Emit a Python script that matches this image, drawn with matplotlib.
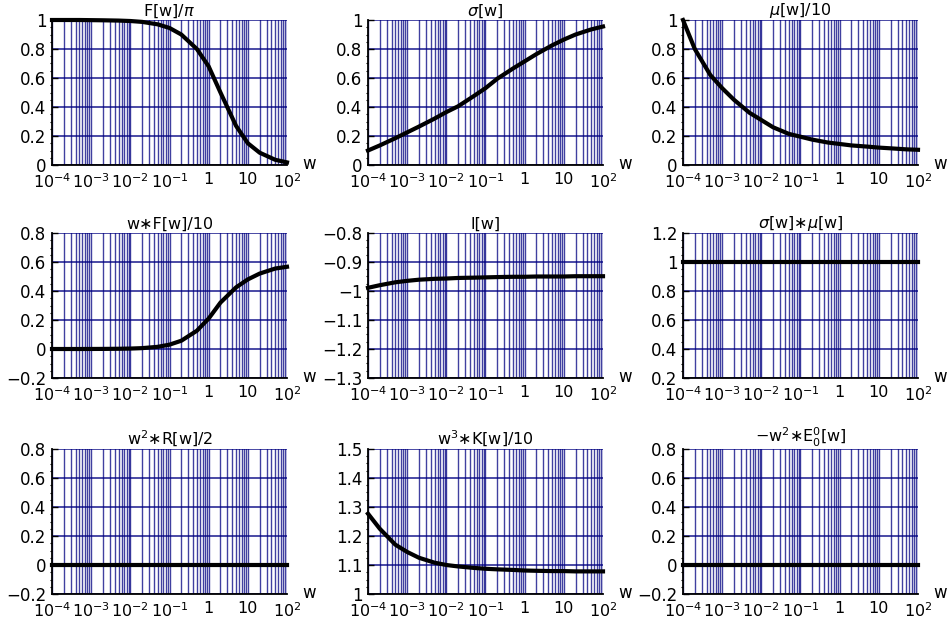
import numpy as np
import matplotlib
matplotlib.use('Agg')
import matplotlib.pyplot as plt
from matplotlib.ticker import LogLocator, FixedLocator, AutoMinorLocator, NullFormatter

plt.rcParams['font.family'] = ['DejaVu Sans']
plt.rcParams['mathtext.fontset'] = 'dejavusans'

w = [1e-4, 2e-4, 5e-4, 1e-3, 2e-3, 5e-3, 0.01, 0.02, 0.05, 0.1,
     0.2, 0.5, 1, 2, 5, 10, 20, 50, 100]

f_pi = [1.0, 1.0, 1.0, 0.999, 0.998, 0.996, 0.993, 0.987, 0.97, 0.945,
        0.9, 0.8, 0.68, 0.5, 0.27, 0.15, 0.085, 0.036, 0.018]
sigma = [0.10, 0.135, 0.185, 0.225, 0.265, 0.32, 0.365, 0.405, 0.475, 0.53,
         0.595, 0.665, 0.715, 0.765, 0.825, 0.865, 0.9, 0.935, 0.955]
mu_10 = [1.0, 0.8, 0.62, 0.53, 0.45, 0.36, 0.31, 0.26, 0.215, 0.195,
         0.175, 0.155, 0.145, 0.135, 0.127, 0.12, 0.115, 0.108, 0.105]
wf_10 = [0.0, 0.0, 0.0, 0.0003, 0.0006, 0.0016, 0.003, 0.006, 0.015, 0.03,
         0.057, 0.126, 0.21, 0.32, 0.425, 0.48, 0.52, 0.555, 0.567]
l_w = [-0.989, -0.98, -0.97, -0.965, -0.961, -0.958, -0.957, -0.955, -0.954, -0.953,
       -0.952, -0.951, -0.951, -0.95, -0.95, -0.95, -0.949, -0.949, -0.949]
sigma_mu = [1.0] * len(w)
w2r_2 = [0.0] * len(w)
w3k_10 = [1.277, 1.225, 1.17, 1.145, 1.125, 1.108, 1.1, 1.095, 1.09, 1.087,
          1.085, 1.083, 1.081, 1.08, 1.079, 1.079, 1.078, 1.078, 1.078]
w2e0 = [0.0] * len(w)

titles = [r'F[w]/$\pi$', r'$\sigma$[w]', r'$\mu$[w]/10',
          'w\u2217F[w]/10', 'l[w]', '$\\sigma$[w]\u2217$\\mu$[w]',
          'w$^2$\u2217R[w]/2', 'w$^3$\u2217K[w]/10', '\u2212w$^2$\u2217E$^0_0$[w]']
series = [f_pi, sigma, mu_10, wf_10, l_w, sigma_mu, w2r_2, w3k_10, w2e0]
ylims = [(0, 1), (0, 1), (0, 1), (-0.2, 0.8), (-1.3, -0.8), (0.2, 1.2),
         (-0.2, 0.8), (1, 1.5), (-0.2, 0.8)]
ysteps = [0.2, 0.2, 0.2, 0.2, 0.1, 0.2, 0.2, 0.1, 0.2]

xticks = [1e-4, 1e-3, 1e-2, 1e-1, 1, 10, 100]
xticklabels = [r'$10^{-4}$', r'$10^{-3}$', r'$10^{-2}$', r'$10^{-1}$', '1', '10', r'$10^{2}$']

W, H = 953, 622
fig = plt.figure(figsize=(W / 100, H / 100), dpi=100)

col_left = [52, 368, 683]
row_top = [20, 233, 449]
ax_w, ax_h = 235, 145
grid_col = '#000080'

for i in range(9):
    r, c = divmod(i, 3)
    ax = fig.add_axes([col_left[c] / W, 1 - (row_top[r] + ax_h) / H, ax_w / W, ax_h / H])
    ax.set_xscale('log')
    ax.set_xlim(1e-4, 100)
    lo, hi = ylims[i]
    ax.set_ylim(lo, hi)

    ax.xaxis.set_major_locator(FixedLocator(xticks))
    ax.set_xticklabels(xticklabels)
    ax.xaxis.set_minor_locator(LogLocator(base=10, subs=range(2, 10), numticks=20))
    ax.xaxis.set_minor_formatter(NullFormatter())

    yt = np.round(np.arange(lo, hi + 1e-9, ysteps[i]), 2)
    ax.set_yticks(yt)
    ax.set_yticklabels([f'{v:g}'.replace('-', '\u2212') for v in yt])
    ax.yaxis.set_minor_locator(AutoMinorLocator(4))

    ax.grid(which='both', axis='x', color=grid_col, lw=1.0, alpha=0.75)
    ax.grid(which='major', axis='y', color=grid_col, lw=1.1, alpha=0.9)
    ax.set_axisbelow(True)

    for s in ['top', 'right']:
        ax.spines[s].set_visible(False)
    for s in ['left', 'bottom']:
        ax.spines[s].set_linewidth(1.3)
        ax.spines[s].set_zorder(3)

    ax.tick_params(axis='x', which='both', length=0, labelsize=11.5, pad=5)
    ax.tick_params(axis='y', which='major', direction='in', length=4, width=1,
                   labelsize=12, pad=4)
    ax.tick_params(axis='y', which='minor', direction='out', length=1.5, width=0.8)

    ax.plot(w, series[i], color='black', lw=3, clip_on=False, zorder=4)
    ax.set_title(titles[i], fontsize=11.5, pad=3)
    ax.text(1.065, 0.01, 'w', transform=ax.transAxes, fontsize=12, va='center', ha='left')

fig.savefig('out.png', dpi=100)
